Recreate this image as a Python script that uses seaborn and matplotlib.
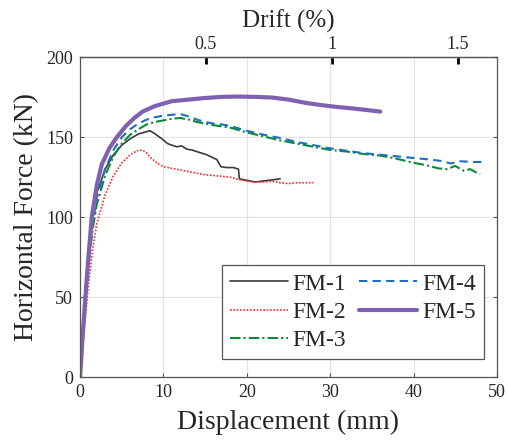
import matplotlib
matplotlib.use("Agg")
import matplotlib.pyplot as plt
import seaborn as sns
import pandas as pd

# Load-displacement curves of the five specimens (displacement in mm, force in kN)
fm1_disp = [0, 0.5, 1.0, 1.5, 2.0, 3.0, 4.0, 5.0, 6.0, 7.0, 8.0, 8.4, 9.0, 9.8, 10.5, 11.0,
            11.6, 12.2, 12.8, 13.4, 14.0, 14.6, 15.2, 15.8, 16.4, 16.9, 17.6, 18.4, 19.0,
            19.1, 20.0, 21.0, 21.8, 22.6, 23.4, 24.0]
fm1_force = [0, 45, 80, 102, 115, 130, 139, 145, 149, 152, 153.5, 154, 152, 149, 146, 145,
             144, 144.5, 142.5, 142, 141, 140, 139, 137.5, 136, 131.5, 131, 131, 130,
             124, 123, 122, 122.5, 123, 123.5, 124]

fm2_disp = [0, 0.5, 1.0, 1.5, 2.0, 3.0, 4.0, 5.0, 6.0, 6.8, 7.5, 8.0, 8.5, 9.2, 10.0, 11.0,
            12.0, 13.0, 14.0, 15.0, 16.0, 17.0, 18.0, 19.0, 20.0, 21.0, 22.0, 23.0, 24.0,
            25.0, 26.0, 27.0, 28.0]
fm2_force = [0, 30, 58, 80, 96, 114, 126, 134, 139, 141.5, 142, 140, 137, 134, 131.5, 130.5,
             129.5, 128.5, 127.5, 126.5, 126, 125.5, 125, 123.5, 122.5, 122, 122, 122.5, 121.5,
             121, 121.5, 121.5, 121.5]

fm3_disp = [0, 0.5, 1.0, 1.5, 2.0, 3.0, 4.0, 5.0, 6.0, 7.0, 8.0, 9.0, 10.0, 11.0, 12.0, 13.0,
            14.0, 15.0, 16.0, 18.0, 20.0, 22.0, 24.0, 26.0, 28.0, 30.0, 32.0, 34.0, 36.0,
            38.0, 40.0, 41.5, 43.0, 44.0, 45.0, 46.0, 46.8, 47.5, 48.0]
fm3_force = [0, 38, 70, 92, 108, 126, 138, 146, 151.5, 155, 158, 159.5, 160.5, 161.5, 162, 161,
             159.5, 158.5, 157.5, 156, 153, 150.5, 148, 146, 144, 142, 141, 139.5, 138.5,
             136.5, 134, 132.5, 130.5, 130, 132, 129, 130, 128, 127]

fm4_disp = [0, 0.5, 1.0, 1.5, 2.0, 3.0, 4.0, 5.0, 6.0, 7.0, 8.0, 9.0, 10.0, 11.0, 12.0, 13.0,
            14.0, 15.0, 16.0, 17.0, 18.0, 20.0, 22.0, 24.0, 26.0, 28.0, 30.0, 32.0, 34.0,
            36.0, 38.0, 40.0, 42.0, 43.5, 44.5, 45.5, 47.0, 48.5]
fm4_force = [0, 40, 72, 95, 112, 130, 142, 150, 155, 158.5, 161, 162.5, 163.5, 164, 164.5, 163,
             161, 159.5, 158.5, 158, 157, 154, 151.5, 149.5, 147, 145, 143, 141.5, 140,
             139, 138, 137, 136, 135, 133.5, 135, 134.5, 134.5]

fm5_disp = [0, 0.3, 0.7, 1.0, 1.4, 2.0, 2.6, 3.5, 4.4, 5.5, 6.5, 7.5, 9.0, 11.0, 13.0, 15.0,
            17.0, 19.0, 21.0, 23.0, 25.0, 27.0, 29.0, 31.0, 33.0, 36.0]
fm5_force = [0, 25, 55, 75, 100, 120, 133, 143, 150, 157, 162, 166, 169.5, 172.5, 173.5, 174.5,
             175.2, 175.4, 175.2, 174.8, 173.5, 171.5, 170, 168.8, 167.8, 166]

specimens = ["FM-1", "FM-2", "FM-3", "FM-4", "FM-5"]
disp_tick_labels = ["0", "10", "20", "30", "40", "50"]
force_tick_labels = ["0", "50", "100", "150", "200"]
drift_ticks = [0.5, 1.0, 1.5]
drift_tick_labels = ["0.5", "1", "1.5"]
MM_PER_PERCENT = 30.2

sns.set_style("ticks")
plt.rcParams["font.family"] = ["Liberation Serif", "DejaVu Serif"]
plt.rcParams["text.color"] = "#262626"
plt.rcParams["axes.labelcolor"] = "#262626"
plt.rcParams["xtick.color"] = "#262626"
plt.rcParams["ytick.color"] = "#262626"

fig, ax = plt.subplots(figsize=(5.07, 4.4), dpi=100)
fig.subplots_adjust(left=0.158, right=0.980, top=0.870, bottom=0.143)

styles = {
    "FM-1": dict(color="#3a3a3a", linestyle="-", linewidth=1.2),
    "FM-2": dict(color="#ff2a2a", linestyle=(0, (1, 1)), linewidth=1.2),
    "FM-3": dict(color="#0a8a3a", linestyle=(0, (5, 1.5, 1, 1.5)), linewidth=1.5),
    "FM-4": dict(color="#1f6fc0", linestyle=(0, (4, 2.5)), linewidth=1.5),
    "FM-5": dict(color="#8060b0", linestyle="-", linewidth=3.0),
}
series = {
    "FM-1": (fm1_disp, fm1_force),
    "FM-2": (fm2_disp, fm2_force),
    "FM-3": (fm3_disp, fm3_force),
    "FM-4": (fm4_disp, fm4_force),
    "FM-5": (fm5_disp, fm5_force),
}

for name in specimens:
    d, f = series[name]
    df = pd.DataFrame({"disp": d, "force": f})
    sns.lineplot(data=df, x="disp", y="force", ax=ax, sort=False, estimator=None,
                 label=name, **styles[name])

ax.set_xlim(0, 50)
ax.set_ylim(0, 200)
ax.set_xticks([float(t) for t in disp_tick_labels])
ax.set_xticklabels(disp_tick_labels)
ax.set_yticks([float(t) for t in force_tick_labels])
ax.set_yticklabels(force_tick_labels)
ax.grid(True, color="#e3e3e3", linewidth=0.9)
ax.set_axisbelow(True)
ax.tick_params(axis="both", direction="in", length=3, width=0.8, labelsize=13,
               right=True, colors="#555555", labelcolor="#262626", pad=5)
for side in ["left", "right", "bottom", "top"]:
    ax.spines[side].set_visible(True)
    ax.spines[side].set_color("#555555")
    ax.spines[side].set_linewidth(0.9)

ax.set_xlabel("Displacement (mm)", fontsize=20, labelpad=6)
ax.set_ylabel("Horizontal Force (kN)", fontsize=20, labelpad=5)

top = ax.secondary_xaxis("top", functions=(lambda x: x / MM_PER_PERCENT,
                                             lambda p: p * MM_PER_PERCENT))
top.set_xticks(drift_ticks)
top.set_xticklabels(drift_tick_labels)
top.tick_params(direction="in", length=5, width=2, color="black", labelsize=13,
                labelcolor="#262626", pad=3)
top.spines["top"].set_color("#555555")
top.spines["top"].set_linewidth(0.9)
top.set_xlabel("Drift (%)", fontsize=18, labelpad=6)

leg = ax.legend(loc="lower right", bbox_to_anchor=(0.969, 0.056), ncol=2, fontsize=17,
                frameon=True, fancybox=False, framealpha=1, edgecolor="#555555",
                handlelength=2.45, handletextpad=0.2, columnspacing=0.55,
                labelspacing=0.28, borderpad=0.35, borderaxespad=0)
leg.get_frame().set_linewidth(0.9)

fig.savefig("out.png", dpi=100)
